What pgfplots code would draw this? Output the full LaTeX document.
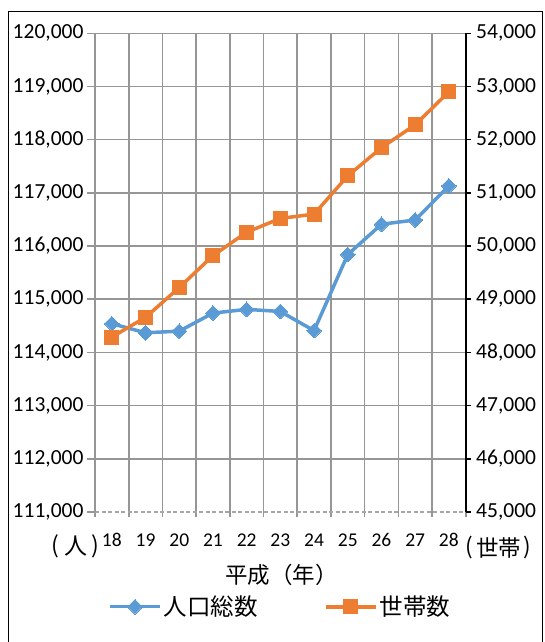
\documentclass[border=0pt]{standalone}
\usepackage{pgfplots}
\pgfplotsset{compat=1.18}
\usepackage{fontspec}
\setmainfont{Carlito}
\newfontfamily\cjk{Noto Sans CJK JP}
\newcommand\lp{\raisebox{0.07em}{(}}
\newcommand\rp{\raisebox{0.07em}{)}}
\definecolor{sblue}{RGB}{91,155,213}
\definecolor{sorange}{RGB}{237,125,49}
\definecolor{gridgray}{RGB}{150,150,150}
\pgfplotsset{
  bluestyle/.style={sblue, line width=3.5pt, mark=square*, mark size=5.2pt, mark options={rotate=45, solid, line width=0pt}},
  orangestyle/.style={sorange, line width=3.5pt, mark=square*, mark size=7pt, mark options={solid, line width=0pt}},
}
\begin{document}
\begin{tikzpicture}[x=1pt,y=1pt]
\useasboundingbox (0,0) rectangle (544,642);
\draw[line width=1.5pt] (8.3,-3) -- (8.3,630.5) -- (542.7,630.5) -- (542.7,-3);
\begin{axis}[
  at={(95pt,130pt)}, anchor=south west,
  scale only axis, width=370.7pt, height=478.7pt,
  xmin=-0.5, xmax=10.5, ymin=111000, ymax=120000,
  axis x line*=bottom, axis y line*=left,
  x axis line style={gridgray!85, line width=1.3pt, dash pattern=on 4pt off 2.5pt},
  y axis line style={gridgray, line width=1.6pt},
  xtick={0,...,10}, xticklabels={18,19,20,21,22,23,24,25,26,27,28},
  minor xtick={-0.5,0.5,...,10.5},
  xminorgrids=true, xmajorgrids=false,
  ytick={112000,113000,...,120000},
  extra y ticks={111000}, extra y tick style={grid=none},
  ymajorgrids=true,
  grid style={gridgray, line width=1.6pt},
  minor grid style={gridgray, line width=1.6pt},
  tick align=outside, major tick length=8pt, minor tick length=5pt,
  tick style={gridgray, line width=1.6pt},
  every major x tick/.style={draw=none},
  scaled y ticks=false,
  yticklabel={\pgfmathprintnumber[fixed, precision=0, 1000 sep={,}, assume math mode=true]{\tick}},
  yticklabel style={font=\fontsize{21.5}{26}\selectfont},
  xticklabel style={font=\fontsize{19.5}{23}\selectfont, anchor=center, inner sep=1pt, yshift=-20pt},
]
\addplot[bluestyle] coordinates {
(0,114540) (1,114370) (2,114400) (3,114740) (4,114810) (5,114770)
(6,114410) (7,115840) (8,116410) (9,116490) (10,117130)};
\end{axis}
\begin{axis}[
  at={(95pt,130pt)}, anchor=south west,
  scale only axis, width=370.7pt, height=478.7pt,
  xmin=-0.5, xmax=10.5, ymin=45000, ymax=54000,
  axis x line=none, axis y line*=right,
  y axis line style={black, line width=2pt},
  ytick={45000,46000,...,54000},
  tick align=outside, major tick length=5pt,
  tick style={black, line width=1.6pt},
  scaled y ticks=false,
  yticklabel={\pgfmathprintnumber[fixed, precision=0, 1000 sep={,}, assume math mode=true]{\tick}},
  yticklabel style={font=\fontsize{21.5}{26}\selectfont, xshift=2pt},
  legend style={at={(0.5,-0.198)}, anchor=center, draw=none, fill=none,
    legend columns=2, font=\cjk\fontsize{23.5}{28}\selectfont,
    /tikz/every even column/.append style={column sep=64pt}},
  legend image code/.code={\draw[mark repeat=2, mark phase=2, #1] plot coordinates {(0pt,0pt) (25.3pt,0pt) (50.6pt,0pt)};},
]
\addlegendimage{bluestyle, line width=3pt}
\addlegendentry{人口総数}
\addplot[orangestyle] coordinates {
(0,48290) (1,48660) (2,49220) (3,49820) (4,50260) (5,50520)
(6,50600) (7,51320) (8,51850) (9,52280) (10,52900)};
\addlegendentry{世帯数}
\end{axis}
\node[font=\cjk\fontsize{23}{27}\selectfont, inner sep=0pt] at (75.5,96) {\lp\kern0.2em 人\kern0.2em\rp};
\node[font=\cjk\fontsize{22.5}{27}\selectfont, inner sep=0pt] at (498.5,94) {\lp\kern0.12em 世帯\kern0.12em\rp};
\node[font=\cjk\fontsize{22.5}{27}\selectfont] at (281.5,67) {平成（年）};
\end{tikzpicture}
\end{document}
